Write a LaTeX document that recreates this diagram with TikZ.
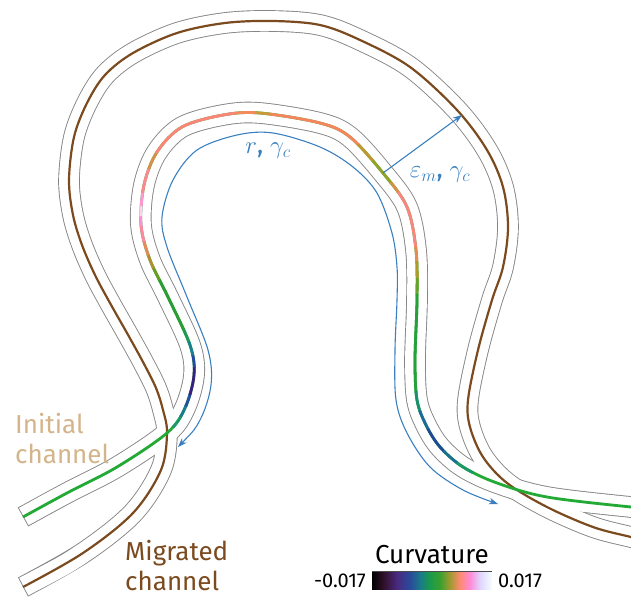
\documentclass[tikz,border=0pt]{standalone}
\usepackage{fontspec}
\setmainfont{Fira Sans}
\usetikzlibrary{arrows.meta}
\definecolor{bankgray}{HTML}{858585}
\definecolor{migbrown}{HTML}{7B4A1E}
\definecolor{inittan}{HTML}{D4B48A}
\definecolor{arrblue}{HTML}{3A80C0}
\definecolor{cgreen}{HTML}{22AA35}
\definecolor{chA}{HTML}{30102A}
\definecolor{chB}{HTML}{4A2A80}
\definecolor{chC}{HTML}{2A4A9A}
\definecolor{chD}{HTML}{1A7A8A}
\definecolor{chE}{HTML}{1A9A4A}
\definecolor{chF}{HTML}{3AA030}
\definecolor{chG}{HTML}{A09A30}
\definecolor{chH}{HTML}{FF8A70}
\definecolor{chI}{HTML}{FF8AD8}
\definecolor{chJ}{HTML}{E0D4FF}
\definecolor{chK}{HTML}{F4FFFF}
\pgfdeclarehorizontalshading{chelix}{100bp}{color(0bp)=(black); color(25bp)=(black);
 color(29.8bp)=(chA); color(35.4bp)=(chB); color(40.9bp)=(chC); color(45bp)=(chD);
 color(49.2bp)=(chE); color(53.3bp)=(chF); color(57.4bp)=(chG); color(61.6bp)=(chH);
 color(65.8bp)=(chI); color(69.9bp)=(chJ); color(75bp)=(chK); color(100bp)=(chK)}
\def\pathI{plot[smooth,tension=0.55] coordinates {(23,517) (67,493) (117,467) (167,433) (185,408) (194,375) (190,345) (168,297) (150,260) (141,225) (144,185) (157,152) (182,127) (223,115) (260,113) (320,123) (350,137) (383,173) (407,207) (416,250) (417,300) (415,360) (417,400) (426,425) (440,447) (463,467) (497,483) (547,497) (631,507) (670,510)}}
\def\pathM{plot[smooth,tension=0.55] coordinates {(23,587) (83,553) (133,513) (161,470) (167,433) (163,410) (156,388) (143,362) (127,333) (110,303) (95,275) (82,245) (73,215) (69,180) (74,137) (87,103) (105,75) (133,53) (177,33) (225,23) (273,21) (320,25) (360,40) (410,67) (457,110) (487,150) (503,187) (508,227) (503,267) (492,300) (478,350) (468,400) (470,427) (483,457) (507,483) (547,507) (593,527) (631,537) (670,546)}}
\newcommand\cseg[3]{%
  \pgfmathsetmacro\cslen{#2-#1+1}%
  \pgfmathsetmacro\csph{3000+\cslen-#1}%
  \definecolor{tmpc}{HTML}{#3}%
  \draw[cline,draw=tmpc,dash pattern=on \cslen pt off 3000pt,dash phase=\csph pt] \pathI;}
\begin{document}
\begin{tikzpicture}[x=1pt,y=-1pt,
  bankouter/.style={line width=21.6pt,draw=bankgray},
  bankinner/.style={line width=19.8pt,draw=white,shorten <=0.9pt,shorten >=0.9pt},
  cline/.style={line width=2.8pt},
  mline/.style={line width=2.2pt,draw=migbrown},
  barrow/.style={line width=1.1pt,draw=arrblue,{Stealth[length=9pt,width=6.5pt,inset=2.5pt]}-{Stealth[length=9pt,width=6.5pt,inset=2.5pt]}},
  sarrow/.style={line width=1.1pt,draw=arrblue,-{Stealth[length=9pt,width=6.5pt,inset=2.5pt]}},
  txt/.style={font=\fontsize{26}{30}\selectfont,inner sep=0pt},
  small/.style={font=\fontsize{20}{24}\selectfont,inner sep=0pt},
  lbl/.style={font=\fontsize{26}{30}\selectfont,inner sep=0pt,text=arrblue}]
\useasboundingbox (0,0) rectangle (631,598);
\clip (0,0) rectangle (631,598);
% channel banks (outline of union of both channels)
\draw[bankouter] \pathM;
\draw[bankouter] \pathI;
\draw[bankinner] \pathM;
\draw[bankinner] \pathI;
% migrated centerline
\draw[mline] \pathM;
% initial centerline coloured by curvature
\draw[cline,draw=cgreen] \pathI;
\cseg{175}{188}{1A9A6A}
\cseg{188}{200}{1A7A96}
\cseg{200}{212}{2050A0}
\cseg{212}{240}{3A1F80}
\cseg{240}{252}{2548A0}
\cseg{252}{266}{1A8090}
\cseg{266}{280}{1A9A55}
\cseg{280}{335}{2A9E35}
\cseg{335}{348}{6A9E20}
\cseg{348}{362}{B09030}
\cseg{362}{376}{E88A58}
\cseg{376}{392}{FF88A0}
\cseg{392}{402}{FF90D8}
\cseg{402}{412}{FFD0F4}
\cseg{412}{425}{FF98D0}
\cseg{425}{450}{FF8890}
\cseg{450}{468}{D89048}
\cseg{468}{560}{FF8478}
\cseg{560}{580}{F58A5A}
\cseg{580}{595}{C89A38}
\cseg{595}{690}{F8845C}
\cseg{690}{712}{C0982E}
\cseg{712}{740}{94A22A}
\cseg{740}{752}{D89048}
\cseg{752}{810}{FF8480}
\cseg{810}{825}{E88C50}
\cseg{825}{842}{B09A28}
\cseg{842}{858}{6AA228}
\cseg{858}{955}{28A03A}
\cseg{955}{975}{1A9070}
\cseg{975}{995}{1A6A9A}
\cseg{995}{1022}{1F4A98}
\cseg{1022}{1040}{1A7090}
\cseg{1040}{1058}{1A9865}
% blue migration arrows
\coordinate (bstart) at (178,447);
\coordinate (bend) at (498,504);
\draw[barrow] plot[smooth,tension=0.55] coordinates {(bstart) (200,420) (211,385) (208,350) (187,297) (167,247) (162,217) (173,180) (197,150) (237,135) (273,133) (320,147) (353,167) (377,193) (392,233) (397,267) (397,300) (395,350) (396,400) (407,433) (430,467) (463,490) (bend)};
\coordinate (a1) at (383,173);
\coordinate (a2) at (462,115);
\draw[sarrow] (a1) -- (a2);
\node[lbl] (lr) at (268,151) {$r$, $\gamma_c$};
\node[lbl] (le) at (440,175) {$\varepsilon_m$, $\gamma_c$};
% channel labels
\node[txt,text=inittan,anchor=base west] (ini1) at (15,433) {Initial};
\node[txt,text=inittan,anchor=base west] (ini2) at (15,463) {channel};
\node[txt,text=migbrown,anchor=base west] (mig1) at (125,560) {Migrated};
\node[txt,text=migbrown,anchor=base west] (mig2) at (125,590) {channel};
% colour bar
\shade[shading=chelix] (372,571) rectangle (492,589);
\draw[line width=0.6pt,black!70] (372,571) -- (492,571);
\node[txt,anchor=base] (ctitle) at (432,563) {Curvature};
\node[small,anchor=base east] (cmin) at (366,587) {-0.017};
\node[small,anchor=base west] (cmax) at (498,587) {0.017};
\end{tikzpicture}
\end{document}
